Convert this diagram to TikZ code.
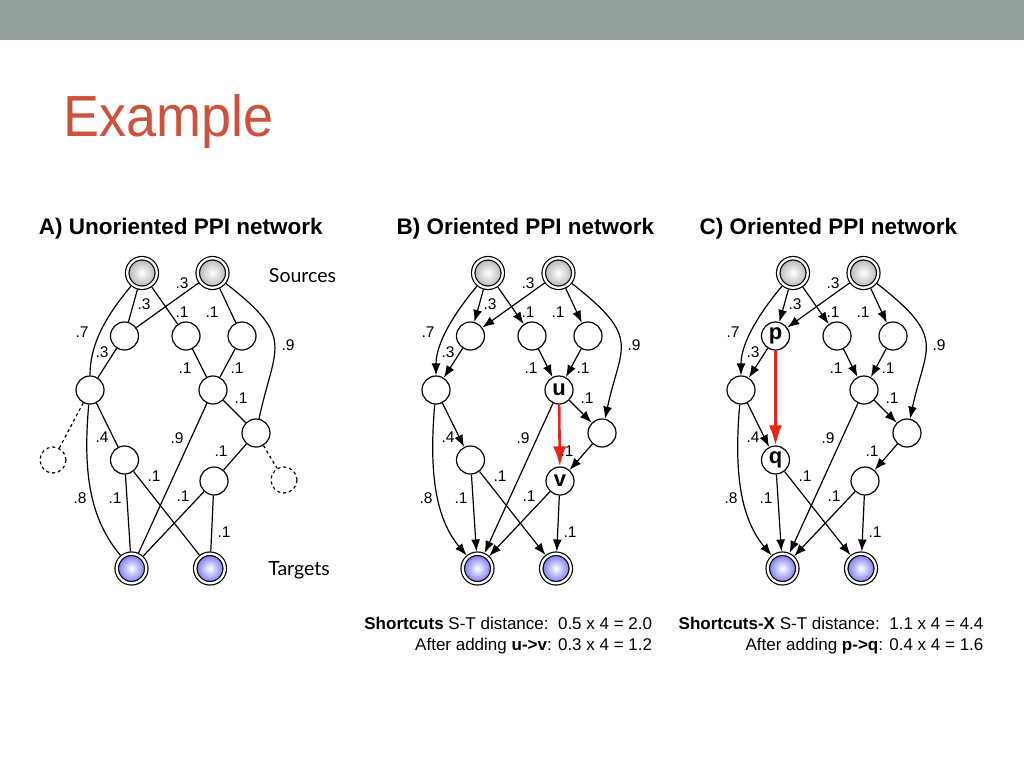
\documentclass[tikz,border=0pt]{standalone}
\usepackage{fontspec}
\usepackage{graphicx}
\setmainfont{Liberation Sans}
\newfontfamily\gillfont{Lato}
\usetikzlibrary{arrows.meta}
\definecolor{headgray}{RGB}{147,160,153}
\definecolor{titlered}{RGB}{208,80,58}
\definecolor{arrowred}{RGB}{240,30,20}
\definecolor{srcgray}{RGB}{178,178,178}
\definecolor{tgtblue}{RGB}{112,112,238}
\tikzset{
  src/.style={circle, draw, line width=1.2pt, double, double distance=2.3pt, minimum size=29.5pt, inner sep=0pt, outer sep=2.3pt, inner color=white, outer color=srcgray},
  tgt/.style={circle, draw, line width=1.2pt, double, double distance=2.3pt, minimum size=29.5pt, inner sep=0pt, outer sep=2.3pt, inner color=white, outer color=tgtblue},
  vtx/.style={circle, draw, line width=1.2pt, fill=white, minimum size=28pt, inner sep=0pt, font=\fontsize{22}{22}\selectfont\bfseries},
  ghost/.style={circle, draw, line width=1.2pt, dashed, minimum size=26pt, inner sep=0pt},
  wt/.style={inner sep=0pt, font=\fontsize{15.5}{17}\selectfont},
  ptitle/.style={anchor=base west, inner sep=0pt, font=\fontsize{22.5}{26}\selectfont\bfseries},
  lbl/.style={anchor=base, inner sep=0pt, font=\gillfont\fontsize{19.5}{22}\selectfont},
  note/.style={anchor=base east, inner sep=0pt, font=\fontsize{17}{20}\selectfont},
  redarr/.style={draw=arrowred, line width=2.6pt, -{Latex[length=20pt,width=13pt]}},
  edg/.style={}
}
\newcommand\ppinodes[4]{%
  \node[src] (S1) at (142,273) {};
  \node[src] (S2) at (212.5,273) {};
  \node[tgt] (T1) at (131.5,568.5) {};
  \node[tgt] (T2) at (210,568.5) {};
  \node[vtx] (n1) at (124.5,336) {#1};
  \node[vtx] (n2) at (186,336) {};
  \node[vtx] (n3) at (242,336) {};
  \node[vtx] (n4) at (90,390) {};
  \node[vtx] (n5) at (213,390) {#2};
  \node[vtx] (n6) at (256,433) {};
  \node[vtx] (n7) at (124.5,460) {#3};
  \node[vtx] (n8) at (214,481) {#4};
}
\newcommand\ppiedges{%
  \draw[edg] (S1) -- (n1);
  \draw[edg] (S1) to[out=-130,in=90] (n4);
  \draw[edg] (S1) -- (n2);
  \draw[edg] (S2) -- (n1);
  \draw[edg] (S2) -- (n3);
  \draw[edg] (S2) to[out=-38,in=78,looseness=1.5] (n6);
  \draw[edg] (n1) -- (n4);
  \draw[edg] (n2) -- (n5);
  \draw[edg] (n3) -- (n5);
  \draw[edg] (n5) -- (n6);
  \draw[edg] (n4) -- (n7);
  \draw[edg] (n4) to[out=-95,in=130] (T1);
  \draw[edg] (n5) -- (T1);
  \draw[edg] (n6) -- (n8);
  \draw[edg] (n7) -- (T1);
  \draw[edg] (n7) -- (T2);
  \draw[edg] (n8) -- (T1);
  \draw[edg] (n8) -- (T2);
}
\newcommand\ppiweights{%
  \node[wt] (w1) at (144,304) {.3};
  \node[wt] (w2) at (82,332) {.7};
  \node[wt] (w3) at (182,312) {.1};
  \node[wt] (w4) at (182,283) {.3};
  \node[wt] (w5) at (212,312) {.1};
  \node[wt] (w6) at (288,345) {.9};
  \node[wt] (w7) at (102,352) {.3};
  \node[wt] (w8) at (185,368) {.1};
  \node[wt] (w9) at (237,368) {.1};
  \node[wt] (w10) at (241,398) {.1};
  \node[wt] (w11) at (102,437) {.4};
  \node[wt] (w12) at (177,438) {.9};
  \node[wt] (w13) at (221,451) {.1};
  \node[wt] (w14) at (80,498) {.8};
  \node[wt] (w15) at (115,498) {.1};
  \node[wt] (w16) at (154,476) {.1};
  \node[wt] (w17) at (183,496) {.1};
  \node[wt] (w18) at (224,532) {.1};
}
\begin{document}
\begin{tikzpicture}[x=1pt, y=-1pt, line width=1.2pt]
\useasboundingbox (0,0) rectangle (1024,768);
\fill[white] (0,0) rectangle (1024,768);
\fill[headgray] (0,0) rectangle (1024,40.5);
\node[anchor=base west, inner sep=0pt, text=titlered, font=\fontsize{58}{60}\selectfont] (title) at (63,136.7) {\scalebox{0.93}[1]{Example}};
\node[ptitle] (tA) at (38.3,234.7) {A) Unoriented PPI network};
\node[ptitle] (tB) at (396,234.7) {B) Oriented PPI network};
\node[ptitle] (tC) at (699,234.7) {C) Oriented PPI network};
% Panel A
\begin{scope}[name prefix=A-, edg/.style={}]
  \ppinodes{}{}{}{}
  \node[ghost] (dL) at (53,460) {};
  \node[ghost] (dR) at (284,480) {};
  \ppiedges
  \draw[dashed] (n4) -- (dL);
  \draw[dashed] (n6) -- (dR);
  \ppiweights
  \node[lbl] (srcs) at (302.5,282.3) {Sources};
  \node[lbl] (tgts) at (299,575) {Targets};
\end{scope}
% Panel B
\begin{scope}[xshift=346pt, name prefix=B-, edg/.style={-{Latex[length=12pt,width=9pt]}}]
  \ppinodes{}{u}{}{v}
  \ppiedges
  \draw[redarr] (n5) -- (n8);
  \ppiweights
\end{scope}
% Panel C
\begin{scope}[xshift=651pt, name prefix=C-, edg/.style={-{Latex[length=12pt,width=9pt]}}]
  \ppinodes{p}{}{q}{}
  \ppiedges
  \draw[redarr] (n1) -- (n7);
  \ppiweights
\end{scope}
\node[note] (bB1) at (652.7,629) {\textbf{Shortcuts} S-T distance:\ \ 0.5 x 4 = 2.0};
\node[note] (bB2) at (652.7,650) {After adding \textbf{u->v}: 0.3 x 4 = 1.2};
\node[note] (bC1) at (984,629) {\textbf{Shortcuts-X} S-T distance:\ \ 1.1 x 4 = 4.4};
\node[note] (bC2) at (984,650) {After adding \textbf{p->q}: 0.4 x 4 = 1.6};
\end{tikzpicture}
\end{document}
